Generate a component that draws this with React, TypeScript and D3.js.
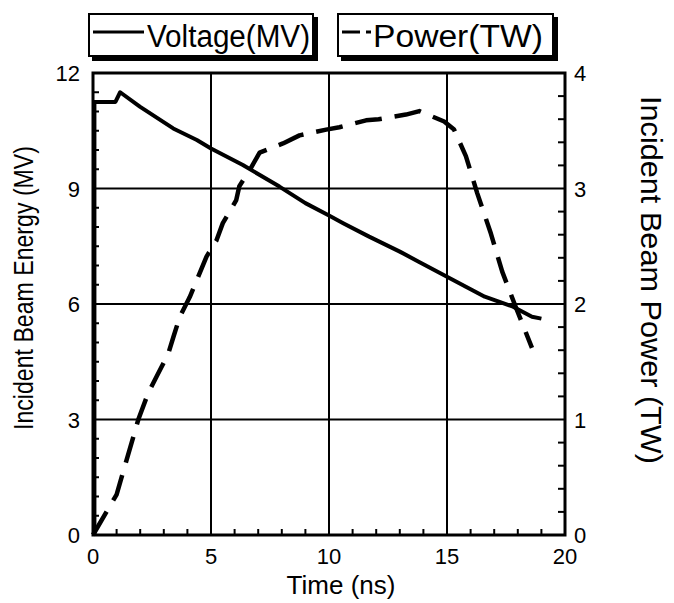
import React from "react";
import * as d3 from "d3";

const voltageT = [0.06, 0.06, 0.95, 1.15, 2.0, 3.4, 4.4, 5.0, 6.35, 7.9, 9.0, 10.0, 10.6, 11.7, 13.0, 13.8, 15.0, 15.8, 16.6, 17.8, 18.6, 19.0];
const voltageV = [0, 11.25, 11.25, 11.5, 11.12, 10.56, 10.26, 10.04, 9.61, 9.05, 8.62, 8.3, 8.1, 7.75, 7.36, 7.1, 6.71, 6.45, 6.19, 5.93, 5.67, 5.62];

const powerT = [0, 1.0, 1.92, 2.34, 2.69, 3.19, 3.4, 3.68, 4.1, 4.81, 5.23, 5.5, 6.07, 6.2, 6.64, 7.06, 8.05, 8.75, 9.88, 10.44, 11.57, 12.1, 13.26, 13.83, 14.88, 15.3, 15.8, 16.28, 16.86, 17.34, 17.9, 18.6];
const powerP = [0, 0.35, 1.0, 1.23, 1.37, 1.57, 1.71, 1.89, 2.06, 2.41, 2.55, 2.7, 2.9, 3.02, 3.16, 3.31, 3.39, 3.46, 3.51, 3.53, 3.59, 3.6, 3.64, 3.67, 3.58, 3.51, 3.28, 2.96, 2.61, 2.28, 1.98, 1.62];

const xTicks = [0, 5, 10, 15, 20];
const yLeftTicks = [0, 3, 6, 9, 12];
const yRightTicks = [0, 1, 2, 3, 4];

const legendLabels = ["Voltage(MV)", "Power(TW)"];
const xTitle = "Time (ns)";
const yLeftTitle = "Incident Beam Energy (MV)";
const yRightTitle = "Incident Beam Power (TW)";

const FONT = "'Liberation Sans', Arial, Helvetica, sans-serif";

export default function App() {
  const W = 674, H = 603;
  const L = 93, R = 565, T = 73, B = 535;
  const x = d3.scaleLinear().domain([0, 20]).range([L, R]);
  const yL = d3.scaleLinear().domain([0, 12]).range([B, T]);
  const yR = d3.scaleLinear().domain([0, 4]).range([B, T]);

  const vData = voltageT.map((t, i) => [t, voltageV[i]] as [number, number]);
  const pData = powerT.map((t, i) => [t, powerP[i]] as [number, number]);
  const vLine = d3.line<[number, number]>().x(d => x(d[0])).y(d => yL(d[1]));
  const pLine = d3.line<[number, number]>().x(d => x(d[0])).y(d => yR(d[1]));

  const xMinor = d3.range(1, 20).filter(v => v % 5 !== 0);
  const yLMinor = d3.range(0.5, 12, 0.5).filter(v => Math.abs(v % 3) > 1e-6);
  const yRMinor = d3.range(0.2, 4, 0.2).filter(v => Math.abs(v - Math.round(v)) > 1e-6);

  return (
    <svg width={W} height={H} style={{ position: "absolute", left: 0, top: 0, background: "#fff" }} fontFamily={FONT}>
      <rect x={0} y={0} width={W} height={H} fill="#fff" />
      {/* legend */}
      <g>
        <rect x={92} y={17} width={226} height={44} fill="#000" />
        <rect x={89} y={14} width={224} height={42} fill="#fff" stroke="#000" strokeWidth={2} />
        <line x1={93} x2={144} y1={32} y2={32} stroke="#000" strokeWidth={3} />
        <text x={147} y={47} fontSize={31} textLength={163} lengthAdjust="spacingAndGlyphs">{legendLabels[0]}</text>

        <rect x={341} y={17} width={217} height={44} fill="#000" />
        <rect x={338} y={14} width={215} height={42} fill="#fff" stroke="#000" strokeWidth={2} />
        <line x1={342} x2={371} y1={32} y2={32} stroke="#000" strokeWidth={3} strokeDasharray="18,6,5,20" />
        <text x={373} y={47} fontSize={31} textLength={170} lengthAdjust="spacingAndGlyphs">{legendLabels[1]}</text>
      </g>

      {/* grid */}
      {xTicks.slice(1, -1).map(v => (
        <line key={"gx" + v} x1={x(v)} x2={x(v)} y1={T} y2={B} stroke="#000" strokeWidth={2} />
      ))}
      {yLeftTicks.slice(1, -1).map(v => (
        <line key={"gy" + v} x1={L} x2={R} y1={yL(v)} y2={yL(v)} stroke="#000" strokeWidth={2} />
      ))}

      {/* minor ticks */}
      {xMinor.map(v => (
        <line key={"mx" + v} x1={x(v)} x2={x(v)} y1={B} y2={B - 6} stroke="#000" strokeWidth={2} />
      ))}
      {yLMinor.map(v => (
        <line key={"ml" + v} x1={L} x2={L + 6} y1={yL(v)} y2={yL(v)} stroke="#000" strokeWidth={2} />
      ))}
      {yRMinor.map(v => (
        <line key={"mr" + v} x1={R} x2={R - 7} y1={yR(v)} y2={yR(v)} stroke="#000" strokeWidth={2} />
      ))}

      {/* frame */}
      <rect x={L} y={T} width={R - L} height={B - T} fill="none" stroke="#000" strokeWidth={3} />

      {/* data */}
      <path d={vLine(vData) || ""} fill="none" stroke="#000" strokeWidth={4} strokeLinejoin="round" />
      <path d={pLine(pData) || ""} fill="none" stroke="#000" strokeWidth={4.5} strokeDasharray="27,13" strokeLinejoin="round" />

      {/* tick labels */}
      {xTicks.map(v => (
        <text key={"tx" + v} x={x(v)} y={564} fontSize={22} textAnchor="middle">{v}</text>
      ))}
      {yLeftTicks.map(v => (
        <text key={"tl" + v} x={80} y={yL(v) + 8} fontSize={22} textAnchor="end">{v}</text>
      ))}
      {yRightTicks.map(v => (
        <text key={"tr" + v} x={574} y={yR(v) + 8} fontSize={22} textAnchor="start">{v}</text>
      ))}

      {/* axis titles */}
      <text x={341} y={594} fontSize={26} textAnchor="middle">{xTitle}</text>
      <text transform={`translate(33,288) rotate(-90)`} fontSize={27} textAnchor="middle" textLength={284} lengthAdjust="spacingAndGlyphs">{yLeftTitle}</text>
      <text transform={`translate(641,280) rotate(90)`} fontSize={29} textAnchor="middle" textLength={368} lengthAdjust="spacingAndGlyphs">{yRightTitle}</text>
    </svg>
  );
}
